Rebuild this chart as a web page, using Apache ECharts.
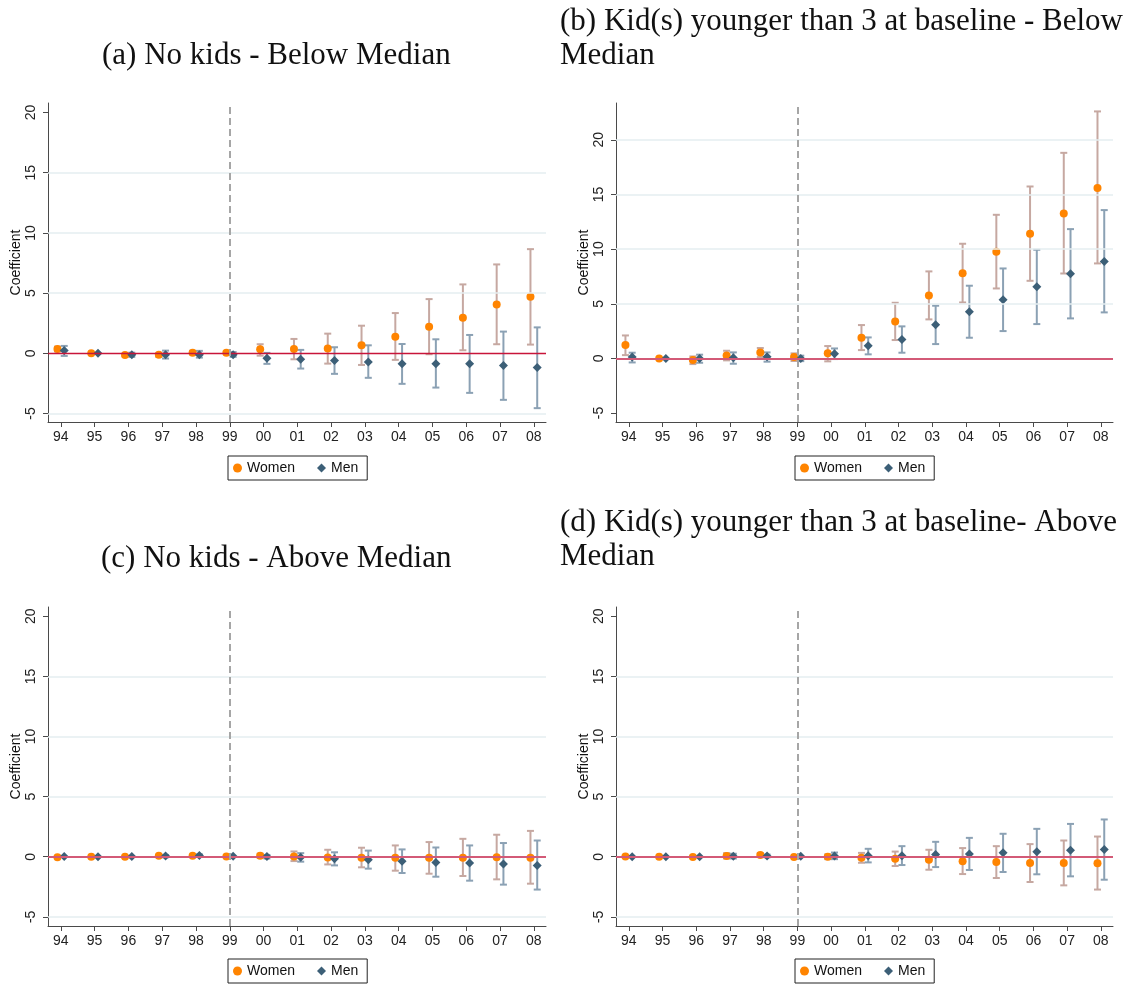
<!DOCTYPE html>
<html>
<head>
<meta charset="utf-8">
<script src="https://cdn.jsdelivr.net/npm/echarts@6/dist/echarts.min.js"></script>
<style>
  html, body { margin: 0; padding: 0; background: #fff; }
  #chart { width: 1126px; height: 985px; }
</style>
</head>
<body>
<div id="chart"></div>
<script>
// year labels on the x axis (index 0..14)
const years = ['94', '95', '96', '97', '98', '99', '00', '01', '02', '03', '04', '05', '06', '07', '08']
const yTicks = [-5, 0, 5, 10, 15, 20]

// (a) No kids - Below Median
const aWomenCoef = [0.35, 0, -0.14, -0.13, 0.05, 0.05, 0.33, 0.35, 0.39, 0.66, 1.38, 2.21, 2.96, 4.06, 4.70]
const aWomenLo   = [0.15, 0, -0.25, -0.30, -0.10, -0.10, -0.20, -0.50, -0.86, -0.97, -0.55, -0.08, 0.25, 0.75, 0.72]
const aWomenHi   = [0.55, 0, -0.05, 0.00, 0.20, 0.15, 0.75, 1.19, 1.63, 2.29, 3.34, 4.50, 5.72, 7.38, 8.65]
const aMenCoef   = [0.22, 0, -0.12, -0.12, -0.12, -0.12, -0.41, -0.50, -0.61, -0.72, -0.88, -0.88, -0.88, -1.02, -1.19]
const aMenLo     = [-0.22, 0, -0.30, -0.44, -0.36, -0.30, -0.88, -1.27, -1.71, -2.04, -2.54, -2.85, -3.29, -3.87, -4.56]
const aMenHi     = [0.61, 0, 0.05, 0.22, 0.20, 0.10, 0.03, 0.28, 0.50, 0.66, 0.77, 1.16, 1.52, 1.80, 2.15]

// (b) Kid(s) younger than 3 at baseline - Below Median
const bWomenCoef = [1.22, 0, -0.15, 0.27, 0.55, 0.12, 0.46, 1.89, 3.38, 5.76, 7.80, 9.76, 11.40, 13.26, 15.60]
const bWomenLo   = [0.30, 0, -0.52, -0.18, 0.12, -0.24, -0.27, 0.76, 1.68, 3.57, 5.12, 6.40, 7.10, 7.77, 8.69]
const bWomenHi   = [2.10, 0, 0.18, 0.70, 0.95, 0.46, 1.13, 3.05, 5.09, 7.96, 10.49, 13.14, 15.73, 18.81, 22.60]
const bMenCoef   = [0.12, 0, 0.00, 0.06, 0.15, 0.00, 0.43, 1.16, 1.74, 3.08, 4.27, 5.37, 6.55, 7.74, 8.87]
const bMenLo     = [-0.37, 0, -0.40, -0.49, -0.30, -0.25, -0.06, 0.37, 0.52, 1.31, 1.89, 2.50, 3.14, 3.66, 4.21]
const bMenHi     = [0.52, 0, 0.34, 0.55, 0.55, 0.25, 0.91, 1.92, 2.93, 4.82, 6.65, 8.23, 9.94, 11.83, 13.57]

// (c) No kids - Above Median
const cWomenCoef = [-0.05, 0, 0.00, 0.08, 0.08, 0.02, 0.08, 0.03, -0.06, -0.08, -0.08, -0.08, -0.08, -0.04, -0.08]
const cWomenLo   = [-0.05, 0, 0.00, 0.00, 0.00, 0.02, -0.10, -0.36, -0.64, -0.88, -1.16, -1.41, -1.60, -1.88, -2.24]
const cWomenHi   = [-0.05, 0, 0.00, 0.15, 0.15, 0.02, 0.25, 0.44, 0.58, 0.75, 0.94, 1.22, 1.49, 1.83, 2.15]
const cMenCoef   = [0.02, 0, 0.01, 0.06, 0.10, 0.05, 0.01, -0.05, -0.16, -0.25, -0.38, -0.47, -0.52, -0.60, -0.72]
const cMenLo     = [0.02, 0, 0.01, -0.05, 0.00, 0.05, -0.15, -0.41, -0.72, -0.99, -1.35, -1.66, -1.99, -2.32, -2.73]
const cMenHi     = [0.02, 0, 0.01, 0.15, 0.20, 0.05, 0.15, 0.30, 0.37, 0.51, 0.61, 0.77, 0.94, 1.14, 1.35]

// (d) Kid(s) younger than 3 at baseline- Above Median
const dWomenCoef = [0.03, 0, -0.02, 0.06, 0.15, -0.02, 0.00, -0.08, -0.16, -0.25, -0.38, -0.44, -0.52, -0.52, -0.55]
const dWomenLo   = [0.03, 0, -0.02, -0.15, 0.00, -0.02, -0.20, -0.50, -0.77, -1.08, -1.44, -1.77, -2.10, -2.38, -2.73]
const dWomenHi   = [0.03, 0, -0.02, 0.30, 0.30, -0.02, 0.20, 0.32, 0.43, 0.58, 0.72, 0.88, 1.05, 1.35, 1.68]
const dMenCoef   = [0.00, 0, 0.00, 0.05, 0.06, 0.05, 0.06, 0.08, 0.08, 0.19, 0.22, 0.33, 0.41, 0.55, 0.61]
const dMenLo     = [0.00, 0, 0.00, -0.15, -0.05, 0.05, -0.20, -0.47, -0.69, -0.86, -1.10, -1.27, -1.46, -1.63, -1.91]
const dMenHi     = [0.00, 0, 0.00, 0.25, 0.18, 0.05, 0.35, 0.66, 0.88, 1.24, 1.57, 1.91, 2.32, 2.73, 3.10]

const SANS = '"Liberation Sans", Arial, sans-serif'
const SERIF = '"Liberation Serif", "Times New Roman", serif'

const WOMEN = '#ff8400'
const WOMEN_CI = '#c6a8a1'
const MEN = '#3c5f77'
const MEN_CI = '#8ba1b4'

const panels = [
  {
    title: '(a) No kids - Below Median', tLeft: 102, tTop: 39,
    grid: { left: 48, top: 103, width: 498, height: 319 },
    yMin: -5.71, yMax: 20.79, grids: [-5, 5, 10, 15], zero: { color: '#c8153a', width: 1.3 },
    legendTop: 456, legendLeft: 228,
    women: [aWomenCoef, aWomenLo, aWomenHi], men: [aMenCoef, aMenLo, aMenHi]
  },
  {
    title: '(b) Kid(s) younger than 3 at baseline - Below\nMedian', tLeft: 560, tTop: 5,
    grid: { left: 616, top: 103, width: 497, height: 319 },
    yMin: -5.82, yMax: 23.37, grids: [5, 10, 15, 20], zero: { color: '#d35a77', width: 2.2 },
    legendTop: 456, legendLeft: 795,
    women: [bWomenCoef, bWomenLo, bWomenHi], men: [bMenCoef, bMenLo, bMenHi]
  },
  {
    title: '(c) No kids - Above Median', tLeft: 101, tTop: 542,
    grid: { left: 48, top: 607, width: 498, height: 319 },
    yMin: -5.76, yMax: 20.77, grids: [-5, 5, 10, 15], zero: { color: '#d35a77', width: 2.2 },
    legendTop: 959, legendLeft: 228,
    women: [cWomenCoef, cWomenLo, cWomenHi], men: [cMenCoef, cMenLo, cMenHi]
  },
  {
    title: '(d) Kid(s) younger than 3 at baseline- Above\nMedian', tLeft: 560, tTop: 506,
    grid: { left: 616, top: 607, width: 497, height: 319 },
    yMin: -5.76, yMax: 20.77, grids: [-5, 5, 10, 15], zero: { color: '#d35a77', width: 2.2 },
    legendTop: 959, legendLeft: 795,
    women: [dWomenCoef, dWomenLo, dWomenHi], men: [dMenCoef, dMenLo, dMenHi]
  }
]

function ciRender(color) {
  return function (params, api) {
    const x = api.value(0)
    const lo = api.value(1)
    const hi = api.value(2)
    if (hi - lo < 0.02) return null
    const p1 = api.coord([x, lo])
    const p2 = api.coord([x, hi])
    const style = { stroke: color, lineWidth: 2 }
    return {
      type: 'group',
      children: [
        { type: 'line', shape: { x1: p1[0], y1: p1[1], x2: p2[0], y2: p2[1] }, style },
        { type: 'line', shape: { x1: p1[0] - 3.5, y1: p1[1], x2: p1[0] + 3.5, y2: p1[1] }, style },
        { type: 'line', shape: { x1: p2[0] - 3.5, y1: p2[1], x2: p2[0] + 3.5, y2: p2[1] }, style }
      ]
    }
  }
}

const xIdx = years.map((_, i) => i)
const axisColor = '#4a4a4a'

const option = {
  backgroundColor: '#fff',
  animation: false,
  title: panels.map(p => ({
    text: p.title, left: p.tLeft, top: p.tTop, padding: 0,
    textStyle: { fontFamily: SERIF, fontWeight: 'normal', fontSize: 31, lineHeight: 34, color: '#111' }
  })),
  legend: panels.map(p => ({
    left: p.legendLeft, top: p.legendTop,
    orient: 'horizontal',
    padding: [5, 9, 5, 5],
    borderColor: '#222', borderWidth: 1,
    itemWidth: 9, itemHeight: 9, itemGap: 22,
    selectedMode: false,
    textStyle: { fontFamily: SANS, fontSize: 14, color: '#111' },
    data: [{ name: 'Women', icon: 'circle' }, { name: 'Men', icon: 'diamond' }]
  })),
  grid: panels.map(p => Object.assign({ containLabel: false }, p.grid)),
  xAxis: panels.map((p, i) => ({
    gridIndex: i, type: 'value', min: -0.38, max: 14.36,
    axisLine: { show: true, onZero: false, lineStyle: { color: axisColor, width: 1 } },
    axisTick: { show: true, length: 5, customValues: xIdx, lineStyle: { color: axisColor } },
    axisLabel: {
      customValues: xIdx, margin: 8, fontFamily: SANS, fontSize: 14, color: '#222',
      formatter: v => years[Math.round(v)]
    },
    splitLine: { show: false }
  })),
  yAxis: panels.map((p, i) => ({
    gridIndex: i, type: 'value', min: p.yMin, max: p.yMax,
    name: 'Coefficient', nameLocation: 'middle', nameGap: 25, nameRotate: 90,
    nameTextStyle: { fontFamily: SANS, fontSize: 14, color: '#111' },
    axisLine: { show: true, onZero: false, lineStyle: { color: axisColor, width: 1 } },
    axisTick: { show: true, length: 5, customValues: yTicks, lineStyle: { color: axisColor } },
    axisLabel: { customValues: yTicks, rotate: 90, margin: 10, fontFamily: SANS, fontSize: 14, color: '#222' },
    splitLine: { show: false }
  })),
  series: []
}

panels.forEach((p, i) => {
  // gridlines, zero line and the 1999 reference line
  option.series.push({
    type: 'line', name: 'ref' + i, xAxisIndex: i, yAxisIndex: i, data: [], z: 1,
    markLine: {
      silent: true, symbol: 'none', animation: false, label: { show: false },
      data: [
        ...p.grids.map(g => ({ yAxis: g, lineStyle: { color: '#e5eef0', width: 1.5, type: 'solid' } })),
        { yAxis: 0, lineStyle: { color: p.zero.color, width: p.zero.width, type: 'solid' } },
        { xAxis: 5, lineStyle: { color: '#a6a6a6', width: 2, type: [7, 4] } }
      ]
    }
  })
  option.series.push({
    type: 'custom', name: 'womenCI' + i, xAxisIndex: i, yAxisIndex: i, z: 2,
    renderItem: ciRender(WOMEN_CI),
    encode: { x: 0, y: [1, 2] },
    data: p.women[0].map((_, k) => [k - 0.1, p.women[1][k], p.women[2][k]])
  })
  option.series.push({
    type: 'custom', name: 'menCI' + i, xAxisIndex: i, yAxisIndex: i, z: 2,
    renderItem: ciRender(MEN_CI),
    encode: { x: 0, y: [1, 2] },
    data: p.men[0].map((_, k) => [k + 0.1, p.men[1][k], p.men[2][k]])
  })
  option.series.push({
    type: 'scatter', name: 'Women', xAxisIndex: i, yAxisIndex: i, z: 3,
    symbol: 'circle', symbolSize: 8, itemStyle: { color: WOMEN, opacity: 1 },
    data: p.women[0].map((v, k) => [k - 0.1, v])
  })
  option.series.push({
    type: 'scatter', name: 'Men', xAxisIndex: i, yAxisIndex: i, z: 3,
    symbol: 'diamond', symbolSize: 9, itemStyle: { color: MEN, opacity: 1 },
    data: p.men[0].map((v, k) => [k + 0.1, v])
  })
})

const chart = echarts.init(document.getElementById('chart'))
chart.setOption(option)
window.addEventListener('resize', () => chart.resize())
</script>
</body>
</html>
